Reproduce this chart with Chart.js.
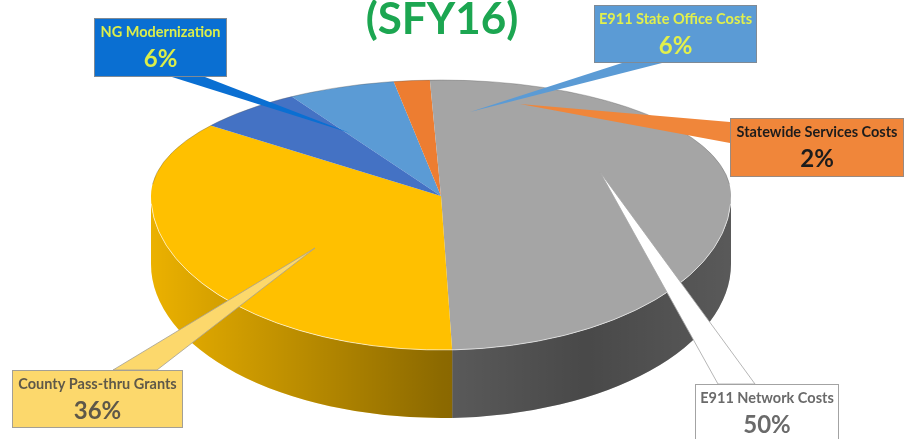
<!DOCTYPE html>
<html>
<head>
<meta charset="utf-8">
<script src="https://cdn.jsdelivr.net/npm/chart.js@4.4.0/dist/chart.umd.min.js"></script>
<style>
  html, body { margin: 0; padding: 0; background: #fff; }
</style>
</head>
<body>
<canvas id="myChart" width="909" height="439"></canvas>
<script>
const categories = [
  'E911 State Office Costs',
  'Statewide Services Costs',
  'E911 Network Costs',
  'County Pass-thru Grants',
  'NG Modernization'
];
const shares = [6, 2, 50, 36, 6];
const sliceColors = ['#5b9bd5', '#ed7d31', '#a5a5a5', '#ffc000', '#4472c4'];
const title = '(SFY16)';

// tilted top face: the back half is flatter than the front half (fake perspective)
const pie = { cx: 441, cy: 196, rx: 290, ryBack: 116, ryFront: 154, depth: 68 };

// label boxes, same order as categories
const callouts = [
  { box: [594, 5, 163, 58], base: [[622, 63], [662, 63]], tip: [470, 112], fill: '#5b9bd5', text: '#e2f04c', edge: '#7f8a95' },
  { box: [730, 118, 174, 59], base: [[730, 122], [730, 143]], tip: [520, 104], fill: '#f0863a', text: '#1c1c1c', edge: '#9a8a80' },
  { box: [695, 384, 144, 60], base: [[718, 384], [755, 384]], tip: [600, 172], fill: '#ffffff', text: '#6a6a6a', edge: '#a3a3a3' },
  { box: [12, 370, 171, 58], base: [[113, 370], [157, 370]], tip: [315, 248], fill: '#fcd86c', text: '#5e5849', edge: '#a39f95' },
  { box: [94, 18, 133, 59], base: [[172, 77], [205, 77]], tip: [350, 133], fill: '#0a6fd2', text: '#dcee4a', edge: '#7f8a95' }
];

// parts of an angle range that face the viewer (0..PI)
function frontPart(s, e) {
  const out = [];
  for (let k = -2; k <= 2; k++) {
    const a = Math.max(s + k * 2 * Math.PI, 0);
    const b = Math.min(e + k * 2 * Math.PI, Math.PI);
    if (b > a) out.push([a, b]);
  }
  return out;
}

// clip to one half and map the library's round pie onto it
function squash(chart, ry, back) {
  const ctx = chart.ctx;
  const a0 = chart.getDatasetMeta(0).data[0];
  const R = a0.outerRadius;
  ctx.save();
  ctx.beginPath();
  if (back) ctx.rect(0, 0, chart.width, pie.cy);
  else ctx.rect(0, pie.cy, chart.width, chart.height - pie.cy);
  ctx.clip();
  ctx.translate(pie.cx, pie.cy);
  ctx.scale(pie.rx / R, ry / R);
  ctx.translate(-a0.x, -a0.y);
}

const pie3d = {
  id: 'pie3d',
  beforeDatasetsDraw(chart) {
    const ctx = chart.ctx;
    const arcs = chart.getDatasetMeta(0).data;

    const shade = ctx.createLinearGradient(pie.cx - pie.rx, 0, pie.cx + pie.rx, 0);
    shade.addColorStop(0, 'rgba(0,0,0,0.08)');
    shade.addColorStop(0.5, 'rgba(0,0,0,0.45)');
    shade.addColorStop(0.75, 'rgba(0,0,0,0.56)');
    shade.addColorStop(1, 'rgba(0,0,0,0.46)');

    arcs.forEach((arc) => {
      const p = arc.getProps(['startAngle', 'endAngle'], true);
      frontPart(p.startAngle, p.endAngle).forEach(([a, b]) => {
        ctx.beginPath();
        ctx.ellipse(pie.cx, pie.cy, pie.rx, pie.ryFront, 0, a, b);
        ctx.ellipse(pie.cx, pie.cy + pie.depth, pie.rx, pie.ryFront, 0, b, a, true);
        ctx.closePath();
        ctx.fillStyle = arc.options.backgroundColor;
        ctx.fill();
        ctx.fillStyle = shade;
        ctx.fill();
      });
    });

    squash(chart, pie.ryBack, true);
  },
  afterDatasetsDraw(chart) {
    const ctx = chart.ctx;
    ctx.restore();

    // front half of the top face
    squash(chart, pie.ryFront, false);
    chart.getDatasetMeta(0).controller.draw();
    ctx.restore();

    // rim lines
    ctx.save();
    ctx.lineWidth = 1;
    ctx.beginPath();
    ctx.ellipse(pie.cx, pie.cy, pie.rx, pie.ryFront, 0, 0.05, Math.PI - 0.05);
    ctx.strokeStyle = 'rgba(255,255,255,0.6)';
    ctx.stroke();
    ctx.beginPath();
    ctx.ellipse(pie.cx, pie.cy, pie.rx, pie.ryBack, 0, Math.PI + 0.1, 2 * Math.PI - 0.1);
    ctx.strokeStyle = 'rgba(90,90,90,0.35)';
    ctx.stroke();
    ctx.restore();

    // callouts
    callouts.forEach((c, i) => {
      const [x, y, w, h] = c.box;
      ctx.save();
      ctx.beginPath();
      ctx.moveTo(c.base[0][0], c.base[0][1]);
      ctx.lineTo(c.tip[0], c.tip[1]);
      ctx.lineTo(c.base[1][0], c.base[1][1]);
      ctx.closePath();
      ctx.fillStyle = c.fill;
      ctx.fill();
      if (c.fill === '#ffffff' || c.fill === '#fcd86c') {
        ctx.strokeStyle = c.edge;
        ctx.lineWidth = 0.8;
        ctx.stroke();
      }
      ctx.fillStyle = c.fill;
      ctx.fillRect(x, y, w, h);
      ctx.strokeStyle = c.edge;
      ctx.lineWidth = 1;
      ctx.strokeRect(x + 0.5, y + 0.5, w - 1, h - 1);

      ctx.fillStyle = c.text;
      ctx.textAlign = 'center';
      ctx.textBaseline = 'middle';
      ctx.font = 'bold 14.5px Lato';
      ctx.fillText(categories[i], x + w / 2, y + 14);
      ctx.font = 'bold 24px Lato';
      ctx.fillText(shares[i] + '%', x + w / 2, y + 41);
      ctx.restore();
    });

    // title, cut at the top like the source
    ctx.save();
    ctx.fillStyle = '#1ca651';
    ctx.font = 'bold 44px Lato';
    ctx.textAlign = 'center';
    ctx.textBaseline = 'alphabetic';
    ctx.fillText(title, 442, 34);
    ctx.restore();
  }
};

const data = {
  labels: categories,
  datasets: [{
    data: shares,
    backgroundColor: sliceColors,
    borderWidth: 0
  }]
};

const config = {
  type: 'pie',
  data: data,
  options: {
    responsive: false,
    animation: false,
    rotation: -31,
    layout: { padding: 10 },
    plugins: {
      legend: { display: false },
      tooltip: { enabled: false }
    }
  },
  plugins: [pie3d]
};

const myChart = new Chart(document.getElementById('myChart'), config);
</script>
</body>
</html>
